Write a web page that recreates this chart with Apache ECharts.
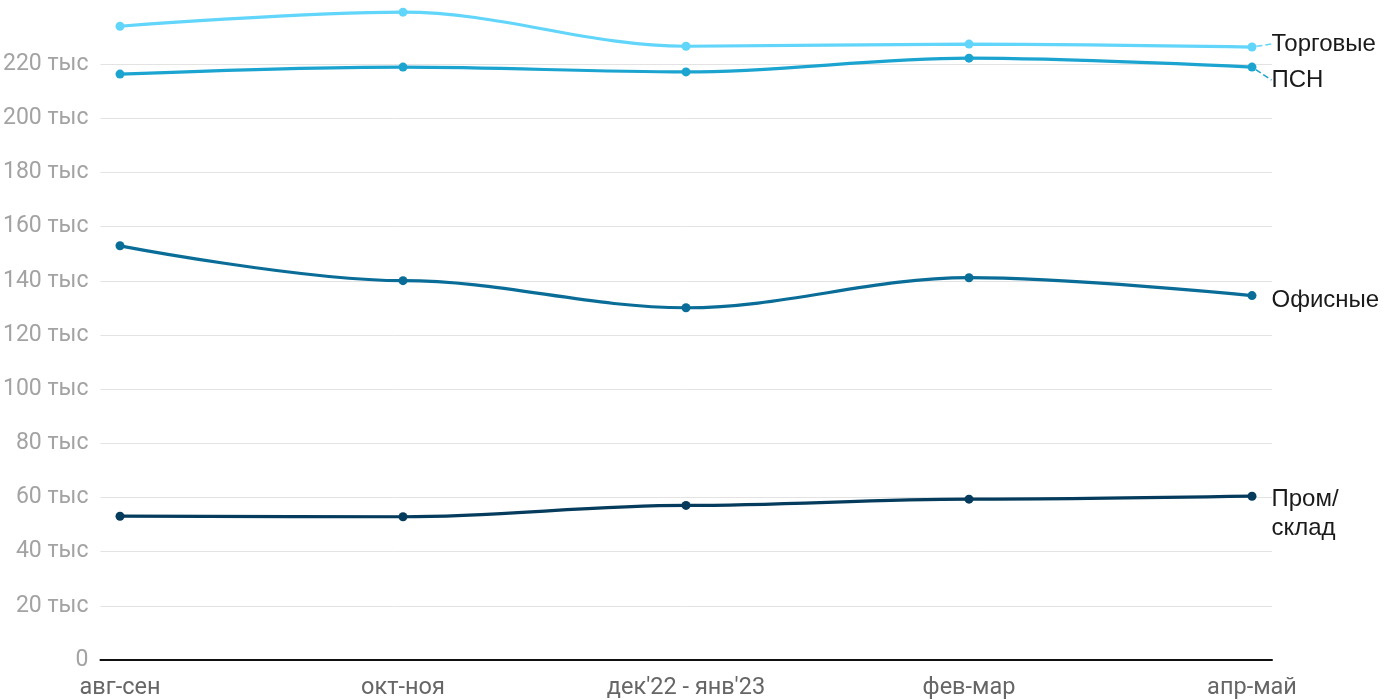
<!DOCTYPE html>
<html><head><meta charset="utf-8">
<script src="https://cdn.jsdelivr.net/npm/echarts@6/dist/echarts.min.js"></script>
<style>html,body{margin:0;padding:0;background:#fff}#c{width:1400px;height:700px}</style>
</head><body><div id="c"></div>
<script>
const categories = ["авг-сен", "окт-ноя", "дек'22 - янв'23", "фев-мар", "апр-май"];
const trade = [234.0, 239.2, 226.6, 227.4, 226.3];
const psn = [216.3, 218.9, 217.1, 222.2, 218.9];
const office = [152.8, 139.9, 129.9, 141.0, 134.4];
const industrial = [52.8, 52.6, 56.8, 59.1, 60.2];
const yTicks = [0, 20, 40, 60, 80, 100, 120, 140, 160, 180, 200, 220];

const seriesDefs = [
  {name: 'Торговые', data: trade, color: '#62d5fa', dy: -3, guide: true},
  {name: 'ПСН', data: psn, color: '#1ba4d0', dy: 13, guide: true},
  {name: 'Офисные', data: office, color: '#0a6d98', dy: 5, guide: false},
  {name: 'Пром/\nсклад', data: industrial, color: '#053b5c', dy: 18, guide: false}
];

const chart = echarts.init(document.getElementById('c'));
chart.setOption({
  animation: false,
  grid: [
    {left: 100, right: 128, top: 10, bottom: 40},
    {left: 120, right: 148, top: 10, bottom: 40}
  ],
  xAxis: [
    {gridIndex: 0, type: 'value', min: 0, max: 1, axisLine: {show: true, lineStyle: {color: '#111', width: 2}}, axisTick: {show: false}, axisLabel: {show: false}, splitLine: {show: false}},
    {gridIndex: 1, type: 'category', data: categories, boundaryGap: false, axisLine: {show: false}, axisTick: {show: false}, splitLine: {show: false},
      axisLabel: {color: '#666', fontSize: 23.5, fontFamily: 'Roboto', margin: 17, interval: 0}}
  ],
  yAxis: [
    {gridIndex: 0, type: 'value', min: 0, max: 240, interval: 20,
      axisLine: {show: false}, axisTick: {show: false},
      axisLabel: {color: '#a3a3a3', fontSize: 23, fontFamily: 'Roboto', margin: 12, showMaxLabel: false, padding: [4, 0, 0, 0],
        formatter: v => yTicks.indexOf(v) < 0 ? '' : (v === 0 ? '0' : v + ' тыс')},
      splitLine: {show: true, showMaxLine: false, lineStyle: {color: '#e3e3e3', width: 1}}},
    {gridIndex: 1, type: 'value', min: 0, max: 240, show: false, splitLine: {show: false}}
  ],
  series: seriesDefs.map(s => ({
    type: 'line', name: s.name, xAxisIndex: 1, yAxisIndex: 1,
    smooth: 0.35, smoothMonotone: 'x',
    symbol: 'circle', symbolSize: 9, showSymbol: true,
    lineStyle: {color: s.color, width: 3.2},
    itemStyle: {color: s.color},
    label: {show: false},
    labelLine: {show: s.guide, lineStyle: {color: s.color, type: 'dashed', width: 1.5}},
    labelLayout: {dy: s.dy},
    data: s.data.map((v, i) => i === s.data.length - 1 ? {
      value: v,
      label: {show: true, position: 'right', distance: 15, formatter: s.name, color: '#1a1a1a', fontSize: 24, fontFamily: 'Liberation Sans', lineHeight: 29, align: 'left'}
    } : v)
  }))
});
</script></body></html>
